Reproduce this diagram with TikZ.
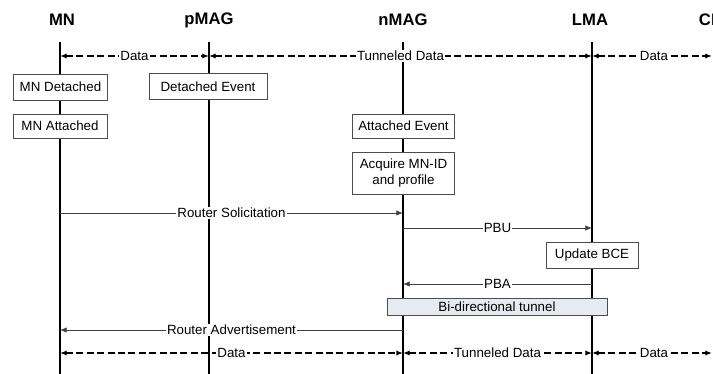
\documentclass[tikz,border=0pt]{standalone}
\usepackage{fontspec}
\setmainfont{Liberation Sans}
\usepackage{tikz}
\usetikzlibrary{arrows.meta}

\definecolor{tunnelgrau}{HTML}{E6EAF1}

\begin{document}
\begin{tikzpicture}[%
		x=0.75pt, y=-0.75pt,
		font=\fontsize{10}{12}\selectfont,
		>=Latex,
		instanz/.style={font=\fontsize{12.5}{15}\selectfont\bfseries},
		lebenslinie/.style={line width=1.1pt},
		ereignis/.style={draw=black!70, fill=white, line width=0.6pt, inner sep=2pt, align=center},
		nachricht/.style={->, draw=black!75, line width=0.6pt, >={Latex[length=5pt,width=4pt]}},
		datenfluss/.style={<->, line width=1.1pt, dash pattern=on 5.3pt off 2.5pt, >={Latex[length=5pt,width=4pt]}},
		marke/.style={fill=white, inner sep=0.8pt}
		]

		\useasboundingbox (0,0) rectangle (713,374);

		%% Instanzen und Lebenslinien (CN liegt am Rand)
		\foreach \name/\x/\lx in {MN/62/60, pMAG/209/209, nMAG/403/403, LMA/590/592, CN/711/716} {
			\node[instanz] (\name) at (\x,20) {\name};
			\coordinate (\name-oben) at (\lx,42);
			\coordinate (\name-unten) at (\lx,374);
			\draw[lebenslinie] (\name-oben) -- (\name-unten);
		}

		%% Zeilen der Nachrichten
		\foreach \zeile/\y in {datenA/56, rs/213, pbu/228, pba/284, ra/330, datenB/353} {
			\coordinate (\zeile) at (0,\y);
		}

		%% Datenfluss vorher
		\draw[datenfluss] (MN-oben|-datenA) -- node[marke]{Data} (pMAG-oben|-datenA);
		\draw[datenfluss] (pMAG-oben|-datenA) -- node[marke]{Tunneled Data} (LMA-oben|-datenA);
		\draw[datenfluss, shorten >=3pt] (LMA-oben|-datenA) -- node[marke]{Data} (CN-oben|-datenA);

		%% Ereignisse
		\node[ereignis, minimum width=71pt, minimum height=19.5pt] (mnDetached) at (60.5,87) {MN Detached};
		\node[ereignis, minimum width=88.5pt, minimum height=19pt] (detachedEvent) at (208,86.5) {Detached Event};
		\node[ereignis, minimum width=70.5pt, minimum height=18pt] (mnAttached) at (60,126) {MN Attached};
		\node[ereignis, minimum width=77pt, minimum height=18pt] (attachedEvent) at (403.5,126) {Attached Event};
		\node[ereignis, minimum width=77pt, minimum height=31pt, inner sep=1pt] (acquire) at (403.5,173.5) {Acquire MN-ID\\and profile};

		%% Signalisierung
		\draw[nachricht] (MN-oben|-rs) -- node[marke]{Router Solicitation} (nMAG-oben|-rs);
		\draw[nachricht] (nMAG-oben|-pbu) -- node[marke]{PBU} (LMA-oben|-pbu);
		\node[ereignis, minimum width=69pt, minimum height=19pt] (updateBCE) at (592,255.5) {Update BCE};
		\draw[nachricht] (LMA-oben|-pba) -- node[marke]{PBA} (nMAG-oben|-pba);
		\node[ereignis, fill=tunnelgrau, minimum width=165pt, minimum height=12.75pt, inner sep=0pt] (tunnel) at (497,306.5) {Bi-directional tunnel};
		\draw[nachricht] (nMAG-oben|-ra) -- node[marke]{Router Advertisement} (MN-oben|-ra);

		%% Datenfluss nachher
		\draw[datenfluss] (MN-oben|-datenB) -- node[marke]{Data} (nMAG-oben|-datenB);
		\draw[datenfluss] (nMAG-oben|-datenB) -- node[marke]{Tunneled Data} (LMA-oben|-datenB);
		\draw[datenfluss, shorten >=3pt] (LMA-oben|-datenB) -- node[marke]{Data} (CN-oben|-datenB);

	\end{tikzpicture}
\end{document}
